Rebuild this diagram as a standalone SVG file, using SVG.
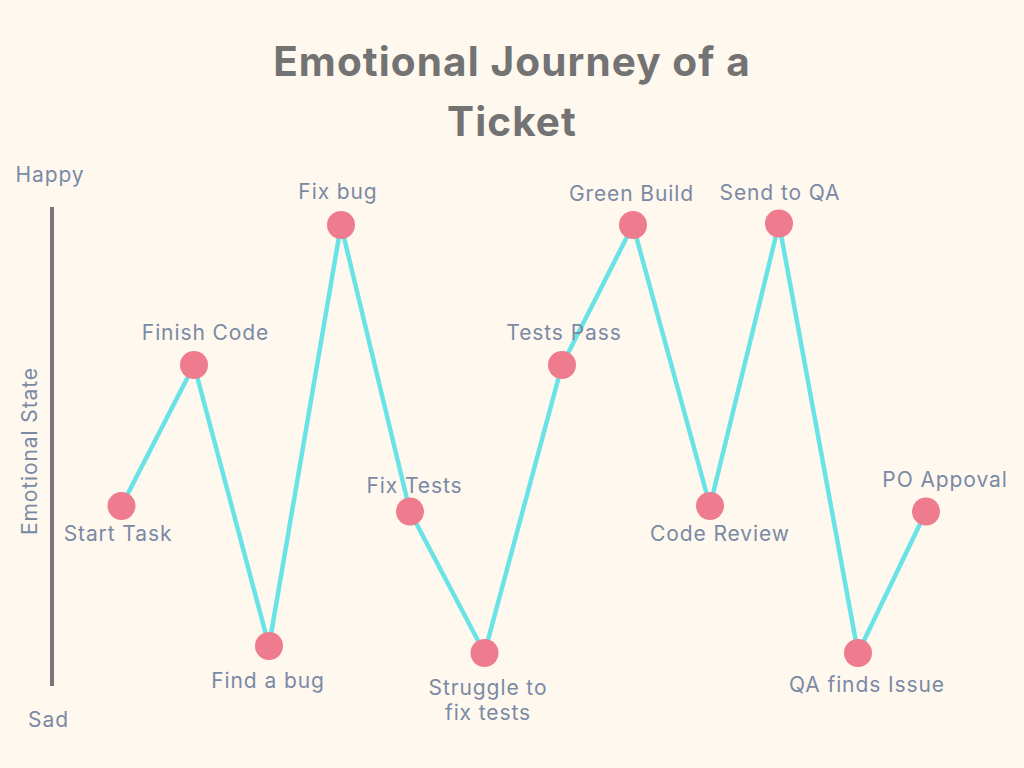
<svg xmlns="http://www.w3.org/2000/svg" width="1024" height="768" viewBox="0 0 1024 768">
<style>
.t{font-family:Inter,"Noto Sans","Liberation Sans",sans-serif;font-size:21px;fill:#7a8aa5;letter-spacing:0.9px;text-anchor:middle}
.title{font-family:Inter,"Noto Sans","Liberation Sans",sans-serif;font-size:40.5px;font-weight:700;fill:#737373;text-anchor:middle;letter-spacing:1.1px}
.pt{fill:#ef7c8e}
.ln{fill:none;stroke:#6ae3e7;stroke-width:4.5;stroke-linejoin:miter}
</style>
<rect width="1024" height="768" fill="#fff8ee"/>
<text class="title" x="512" y="76">Emotional Journey of a</text>
<text class="title" x="512" y="136">Ticket</text>
<line x1="52" y1="207" x2="52" y2="686" stroke="#777777" stroke-width="4"/>
<text class="t" x="50" y="182">Happy</text>
<text class="t" x="48.5" y="727">Sad</text>
<text class="t" transform="translate(37,451) rotate(-90)" x="0" y="0">Emotional State</text>
<g id="connectors">
<polyline class="ln" points="121.5,506 194,365 269,646 341,225 410,511.5 484.5,653 562,365 633,225 710,506 779,223.5 858,653 926,511.5"/>
</g>
<g id="start-task"><circle class="pt" cx="121.5" cy="506" r="14"/><text class="t" x="118" y="541">Start Task</text></g>
<g id="finish-code"><circle class="pt" cx="194" cy="365" r="14"/><text class="t" x="205.5" y="340">Finish Code</text></g>
<g id="find-a-bug"><circle class="pt" cx="269" cy="646" r="14"/><text class="t" x="268" y="688">Find a bug</text></g>
<g id="fix-bug"><circle class="pt" cx="341" cy="225" r="14"/><text class="t" x="338" y="199">Fix bug</text></g>
<g id="fix-tests"><circle class="pt" cx="410" cy="511.5" r="14"/><text class="t" x="414.5" y="493">Fix Tests</text></g>
<g id="struggle"><circle class="pt" cx="484.5" cy="653" r="14"/><text class="t" x="488" y="695">Struggle to</text><text class="t" x="488" y="720">fix tests</text></g>
<g id="tests-pass"><circle class="pt" cx="562" cy="365" r="14"/><text class="t" x="564" y="340">Tests Pass</text></g>
<g id="green-build"><circle class="pt" cx="633" cy="225" r="14"/><text class="t" x="631.5" y="201">Green Build</text></g>
<g id="code-review"><circle class="pt" cx="710" cy="506" r="14"/><text class="t" x="720" y="541">Code Review</text></g>
<g id="send-to-qa"><circle class="pt" cx="779" cy="223.5" r="14"/><text class="t" x="780" y="200">Send to QA</text></g>
<g id="qa-finds-issue"><circle class="pt" cx="858" cy="653" r="14"/><text class="t" x="867" y="692">QA finds Issue</text></g>
<g id="po-approval"><circle class="pt" cx="926" cy="511.5" r="14"/><text class="t" x="945" y="487">PO Appoval</text></g>
</svg>
